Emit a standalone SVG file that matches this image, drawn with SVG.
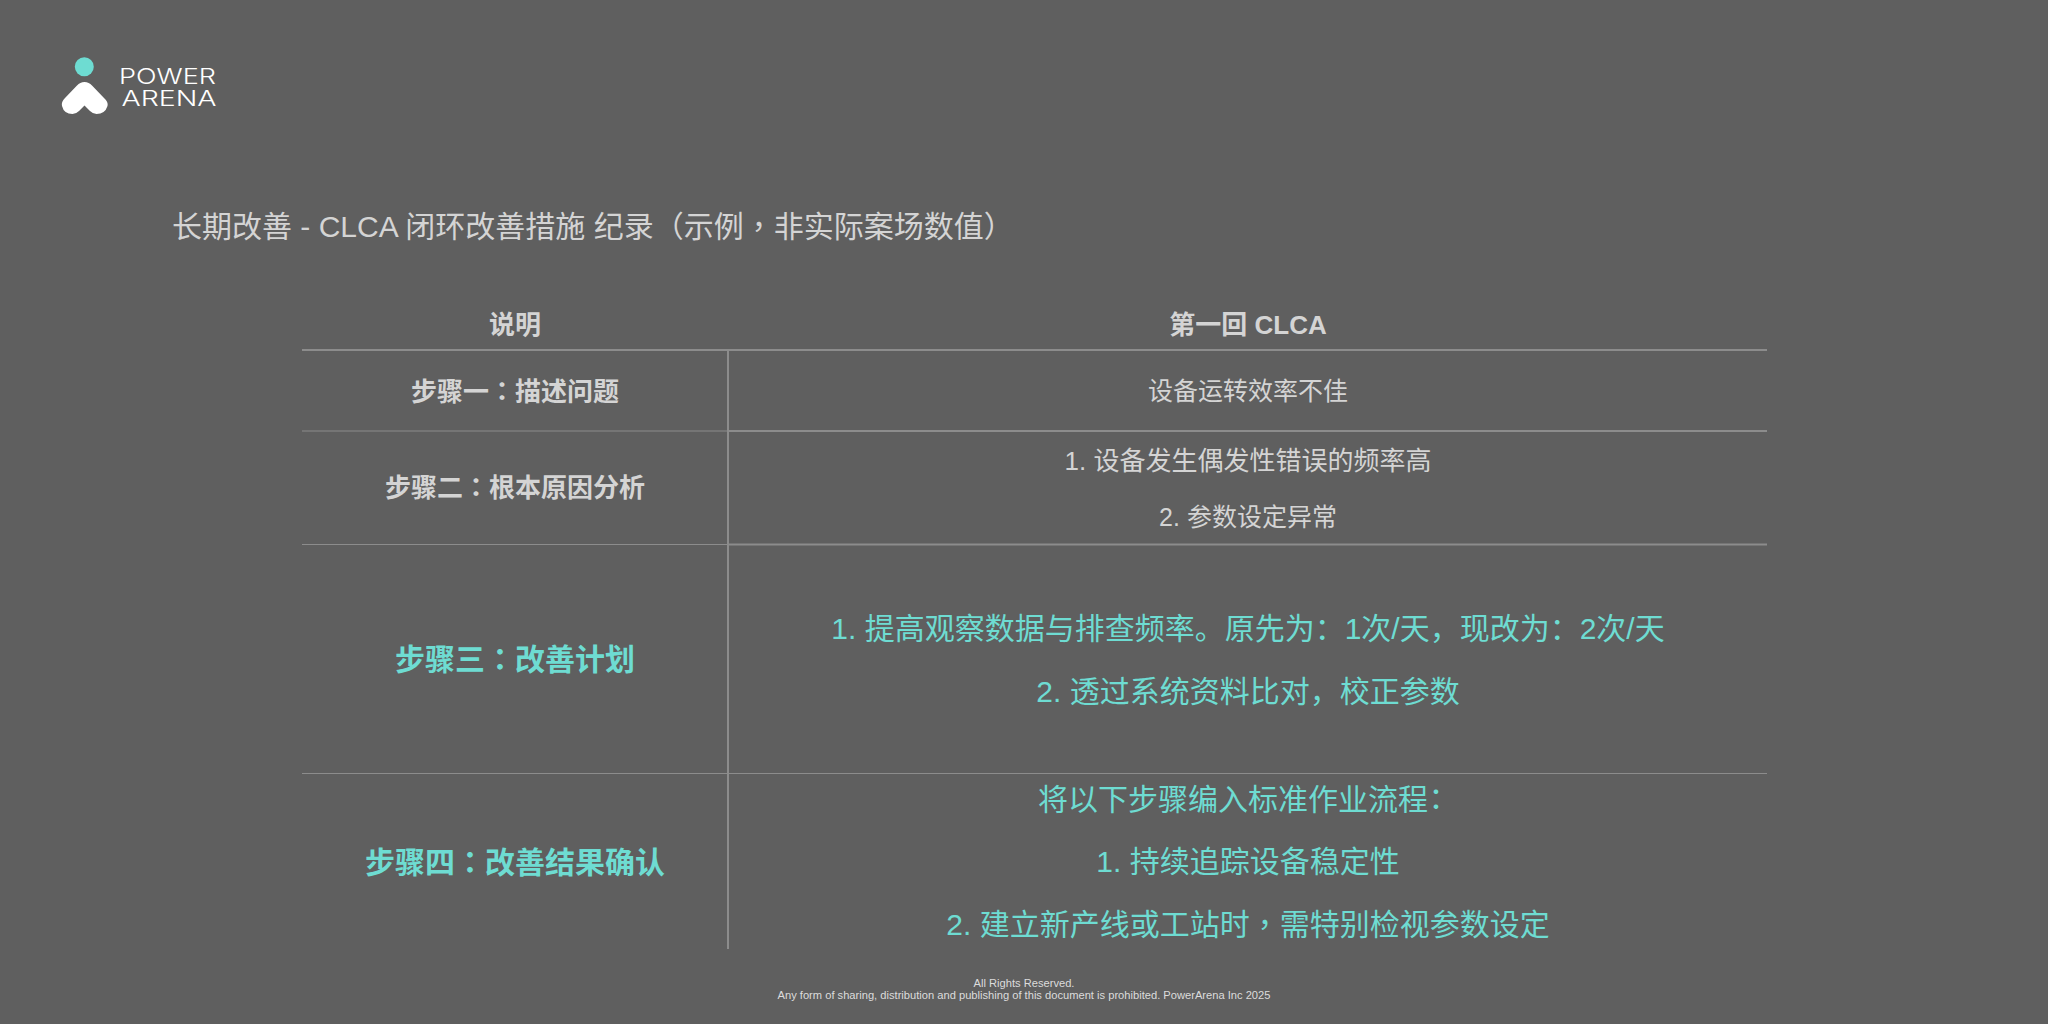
<svg xmlns="http://www.w3.org/2000/svg" width="2048" height="1024" viewBox="0 0 2048 1024">
<style>
text{font-family:"Liberation Sans","Noto Sans CJK SC",sans-serif;text-anchor:middle;fill:#d4d4d4}
.h{font-size:26px;font-weight:700}
.c{font-size:25px}
.g{fill:#6edcd2;font-size:30px}
.gb{fill:#6edcd2;font-size:30px;font-weight:700}
.t{stroke:#8c8c8c;fill:none}
.f{font-size:11.15px;fill:#dcdcdc}
.p{font-family:"Liberation Sans","Noto Sans CJK TC",sans-serif}
.l{font-family:Inter,"Liberation Sans",sans-serif;font-size:21.500px;font-weight:300;fill:#fff;text-anchor:start}
</style>
<rect width="2048" height="1024" fill="#5f5f5f"/>
<g id="logo">
<circle cx="84.300" cy="66.700" r="9.500" fill="#6edcd2"/>
<path d="M84.500 82 Q80 82 77 85.500 L65 98 Q61 102 62 106 Q64 114 72.500 114 Q76 114 79 111 L84.500 105.500 L90 111 Q93 114 96.500 114 Q105 114 107.500 106 Q108.500 102 104 98 L92 85.500 Q89 82 84.500 82 Z" fill="#fff"/>
<text class="l" x="119" y="83.500" textLength="97" lengthAdjust="spacingAndGlyphs">POWER</text>
<text class="l" x="121.500" y="105.500" textLength="95" lengthAdjust="spacingAndGlyphs">ARENA</text>
</g>
<text id="title" x="172" y="237" style="font-size:30px;text-anchor:start">长期改善 - CLCA 闭环改善措施 纪录（示例<tspan class="p">，</tspan>非实际案场数值）</text>
<g id="connectors">
<path class="t" stroke-width="2" d="M302 350H1767M728 350V949M728 431H1767M728 544.500H1767"/>
<path class="t" stroke-width="1" d="M302 431H728M302 544.500H728M302 773.500H1767"/>
</g>
<g id="header">
<text class="h" x="515" y="334">说明</text>
<text class="h" x="1248" y="334">第一回 CLCA</text>
</g>
<g id="row1">
<text class="h" x="515" y="401">步骤一<tspan class="p">：</tspan>描述问题</text>
<text class="c" x="1248" y="400">设备运转效率不佳</text>
</g>
<g id="row2">
<text class="h" x="515" y="497">步骤二<tspan class="p">：</tspan>根本原因分析</text>
<text class="c" style="font-size:26px" x="1248" y="470">1. 设备发生偶发性错误的频率高</text>
<text class="c" x="1248" y="526">2. 参数设定异常</text>
</g>
<g id="row3">
<text class="gb" x="515" y="670">步骤三<tspan class="p">：</tspan>改善计划</text>
<text class="g" x="1248" y="639">1. 提高观察数据与排查频率。原先为：1次/天，现改为：2次/天</text>
<text class="g" x="1248" y="702">2. 透过系统资料比对，校正参数</text>
</g>
<g id="row4">
<text class="gb" x="515" y="873">步骤四<tspan class="p">：</tspan>改善结果确认</text>
<text class="g" x="1244.500" y="810">将以下步骤编入标准作业流程<tspan class="p" dx="-7">：</tspan></text>
<text class="g" x="1248" y="872">1. 持续追踪设备稳定性</text>
<text class="g" x="1248" y="935">2. 建立新产线或工站时<tspan class="p">，</tspan>需特别检视参数设定</text>
</g>
<g id="footer">
<text class="f" x="1024" y="987">All Rights Reserved.</text>
<text class="f" x="1024" y="999">Any form of sharing, distribution and publishing of this document is prohibited. PowerArena Inc 2025</text>
</g>
</svg>
